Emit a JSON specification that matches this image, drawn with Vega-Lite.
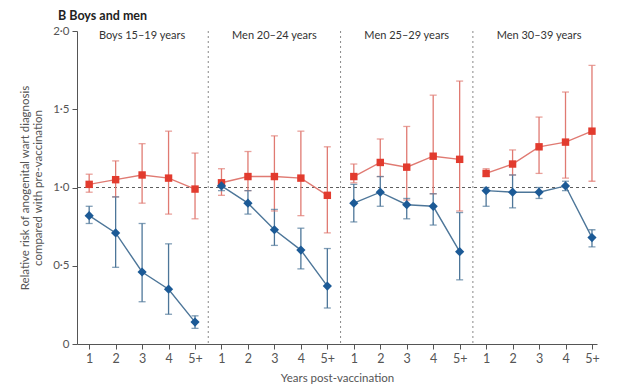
{
  "$schema": "https://vega.github.io/schema/vega-lite/v6.json",
  "width": 520,
  "height": 313,
  "autosize": {"type": "none"},
  "padding": {"left": 77, "top": 31, "right": 22, "bottom": 41},
  "background": "white",
  "title": {"text": "B  Boys and men", "anchor": "start", "frame": "group", "dx": -19, "offset": 3, "font": "Lato", "fontSize": 12.5, "fontWeight": "bold", "color": "#222"},
  "config": {
    "view": {"stroke": null},
    "axis": {"labelFont": "Lato", "titleFont": "Lato", "labelColor": "#555", "titleColor": "#555", "domainColor": "#555", "tickColor": "#555", "labelFontSize": 11.5, "titleFontSize": 11.5, "titleFontWeight": "normal", "grid": false, "tickSize": 5},
    "axisX": {"labelOverlap": false, "labelBound": false, "labelFlush": false}
  },
  "datasets": {
    "rr": [
      {"p": "Boys 15–19 years", "pos": 1, "s": "red", "rr": 1.02, "lo": 0.97, "hi": 1.085},
      {"p": "Boys 15–19 years", "pos": 2, "s": "red", "rr": 1.05, "lo": 0.94, "hi": 1.17},
      {"p": "Boys 15–19 years", "pos": 3, "s": "red", "rr": 1.08, "lo": 0.90, "hi": 1.28},
      {"p": "Boys 15–19 years", "pos": 4, "s": "red", "rr": 1.06, "lo": 0.83, "hi": 1.36},
      {"p": "Boys 15–19 years", "pos": 5, "s": "red", "rr": 0.99, "lo": 0.80, "hi": 1.22},
      {"p": "Boys 15–19 years", "pos": 1, "s": "blue", "rr": 0.82, "lo": 0.77, "hi": 0.88},
      {"p": "Boys 15–19 years", "pos": 2, "s": "blue", "rr": 0.71, "lo": 0.49, "hi": 0.94},
      {"p": "Boys 15–19 years", "pos": 3, "s": "blue", "rr": 0.46, "lo": 0.27, "hi": 0.77},
      {"p": "Boys 15–19 years", "pos": 4, "s": "blue", "rr": 0.35, "lo": 0.19, "hi": 0.64},
      {"p": "Boys 15–19 years", "pos": 5, "s": "blue", "rr": 0.14, "lo": 0.10, "hi": 0.18},
      {"p": "Men 20–24 years", "pos": 6, "s": "red", "rr": 1.03, "lo": 0.95, "hi": 1.12},
      {"p": "Men 20–24 years", "pos": 7, "s": "red", "rr": 1.07, "lo": 0.98, "hi": 1.23},
      {"p": "Men 20–24 years", "pos": 8, "s": "red", "rr": 1.07, "lo": 0.85, "hi": 1.33},
      {"p": "Men 20–24 years", "pos": 9, "s": "red", "rr": 1.06, "lo": 0.82, "hi": 1.36},
      {"p": "Men 20–24 years", "pos": 10, "s": "red", "rr": 0.95, "lo": 0.71, "hi": 1.26},
      {"p": "Men 20–24 years", "pos": 6, "s": "blue", "rr": 1.01, "lo": 0.98, "hi": 1.04},
      {"p": "Men 20–24 years", "pos": 7, "s": "blue", "rr": 0.90, "lo": 0.83, "hi": 0.98},
      {"p": "Men 20–24 years", "pos": 8, "s": "blue", "rr": 0.73, "lo": 0.63, "hi": 0.86},
      {"p": "Men 20–24 years", "pos": 9, "s": "blue", "rr": 0.60, "lo": 0.48, "hi": 0.74},
      {"p": "Men 20–24 years", "pos": 10, "s": "blue", "rr": 0.37, "lo": 0.23, "hi": 0.61},
      {"p": "Men 25–29 years", "pos": 11, "s": "red", "rr": 1.07, "lo": 1.03, "hi": 1.15},
      {"p": "Men 25–29 years", "pos": 12, "s": "red", "rr": 1.16, "lo": 1.07, "hi": 1.31},
      {"p": "Men 25–29 years", "pos": 13, "s": "red", "rr": 1.13, "lo": 0.92, "hi": 1.39},
      {"p": "Men 25–29 years", "pos": 14, "s": "red", "rr": 1.20, "lo": 0.96, "hi": 1.59},
      {"p": "Men 25–29 years", "pos": 15, "s": "red", "rr": 1.18, "lo": 0.85, "hi": 1.68},
      {"p": "Men 25–29 years", "pos": 11, "s": "blue", "rr": 0.90, "lo": 0.78, "hi": 1.02},
      {"p": "Men 25–29 years", "pos": 12, "s": "blue", "rr": 0.97, "lo": 0.88, "hi": 1.07},
      {"p": "Men 25–29 years", "pos": 13, "s": "blue", "rr": 0.89, "lo": 0.80, "hi": 0.93},
      {"p": "Men 25–29 years", "pos": 14, "s": "blue", "rr": 0.88, "lo": 0.76, "hi": 0.96},
      {"p": "Men 25–29 years", "pos": 15, "s": "blue", "rr": 0.59, "lo": 0.41, "hi": 0.84},
      {"p": "Men 30–39 years", "pos": 16, "s": "red", "rr": 1.09, "lo": 1.07, "hi": 1.12},
      {"p": "Men 30–39 years", "pos": 17, "s": "red", "rr": 1.15, "lo": 1.08, "hi": 1.24},
      {"p": "Men 30–39 years", "pos": 18, "s": "red", "rr": 1.26, "lo": 1.09, "hi": 1.45},
      {"p": "Men 30–39 years", "pos": 19, "s": "red", "rr": 1.29, "lo": 1.06, "hi": 1.61},
      {"p": "Men 30–39 years", "pos": 20, "s": "red", "rr": 1.36, "lo": 1.04, "hi": 1.78},
      {"p": "Men 30–39 years", "pos": 16, "s": "blue", "rr": 0.98, "lo": 0.88, "hi": 1.00},
      {"p": "Men 30–39 years", "pos": 17, "s": "blue", "rr": 0.97, "lo": 0.87, "hi": 1.08},
      {"p": "Men 30–39 years", "pos": 18, "s": "blue", "rr": 0.97, "lo": 0.93, "hi": 1.00},
      {"p": "Men 30–39 years", "pos": 19, "s": "blue", "rr": 1.01, "lo": 0.98, "hi": 1.04},
      {"p": "Men 30–39 years", "pos": 20, "s": "blue", "rr": 0.68, "lo": 0.62, "hi": 0.73}
    ],
    "panels": [
      {"pos": 3, "t": "Boys 15–19 years"},
      {"pos": 8, "t": "Men 20–24 years"},
      {"pos": 13, "t": "Men 25–29 years"},
      {"pos": 18, "t": "Men 30–39 years"}
    ],
    "seps": [{"x": 5.5}, {"x": 10.5}, {"x": 15.5}]
  },
  "layer": [
    {
      "data": {"name": "seps"},
      "mark": {"type": "rule", "color": "#888", "strokeDash": [2, 3], "strokeWidth": 1},
      "encoding": {
        "x": {
          "field": "x", "type": "quantitative",
          "scale": {"domain": [0.54, 20.19], "nice": false, "zero": false},
          "axis": {"values": [1,2,3,4,5,6,7,8,9,10,11,12,13,14,15,16,17,18,19,20], "tickCount": 40, "labelExpr": "datum.value % 5 == 0 ? '5+' : toString(datum.value % 5)", "labelOverlap": false, "title": "Years post-vaccination", "titlePadding": 8, "labelPadding": 3, "labelFontSize": 12.5}
        }
      }
    },
    {
      "data": {"values": [{"y": 1}]},
      "mark": {"type": "rule", "color": "#333", "strokeDash": [3, 3], "strokeWidth": 0.8},
      "encoding": {
        "y": {
          "field": "y", "type": "quantitative",
          "scale": {"domain": [0, 2], "nice": false},
          "axis": {"values": [0, 0.5, 1, 1.5, 2], "tickCount": 10, "labelExpr": "datum.value == 0 ? '0' : replace(format(datum.value, '.1f'), '.', '·')", "title": ["Relative risk of anogenital wart diagnosis", "compared with pre-vaccination"], "titlePadding": 9, "labelPadding": 3}
        }
      }
    },
    {
      "data": {"name": "rr"},
      "mark": {"type": "rule", "strokeWidth": 1.3},
      "encoding": {
        "x": {"field": "pos", "type": "quantitative"},
        "y": {"field": "lo", "type": "quantitative"},
        "y2": {"field": "hi"},
        "color": {"field": "s", "type": "nominal", "scale": {"domain": ["red", "blue"], "range": ["#e07a72", "#4d7699"]}, "legend": null}
      }
    },
    {
      "data": {"name": "rr"},
      "mark": {"type": "tick", "orient": "horizontal", "size": 7, "thickness": 1.3},
      "encoding": {
        "x": {"field": "pos", "type": "quantitative"},
        "y": {"field": "lo", "type": "quantitative"},
        "color": {"field": "s", "type": "nominal", "legend": null}
      }
    },
    {
      "data": {"name": "rr"},
      "mark": {"type": "tick", "orient": "horizontal", "size": 7, "thickness": 1.3},
      "encoding": {
        "x": {"field": "pos", "type": "quantitative"},
        "y": {"field": "hi", "type": "quantitative"},
        "color": {"field": "s", "type": "nominal", "legend": null}
      }
    },
    {
      "data": {"name": "rr"},
      "mark": {"type": "line", "strokeWidth": 1.4},
      "encoding": {
        "x": {"field": "pos", "type": "quantitative"},
        "y": {"field": "rr", "type": "quantitative"},
        "color": {"field": "s", "type": "nominal", "legend": null},
        "detail": {"field": "p", "type": "nominal"}
      }
    },
    {
      "data": {"name": "rr"},
      "mark": {"type": "point", "filled": true, "opacity": 1},
      "encoding": {
        "x": {"field": "pos", "type": "quantitative"},
        "y": {"field": "rr", "type": "quantitative"},
        "shape": {"field": "s", "type": "nominal", "scale": {"domain": ["red", "blue"], "range": ["square", "diamond"]}, "legend": null},
        "size": {"field": "s", "type": "nominal", "scale": {"domain": ["red", "blue"], "range": [55, 85]}, "legend": null},
        "fill": {"field": "s", "type": "nominal", "scale": {"domain": ["red", "blue"], "range": ["#e23b2e", "#1c5a96"]}, "legend": null},
        "color": {"field": "s", "type": "nominal", "legend": null}
      }
    },
    {
      "data": {"name": "panels"},
      "mark": {"type": "text", "font": "Lato", "fontSize": 11, "color": "#333", "baseline": "middle"},
      "encoding": {
        "x": {"field": "pos", "type": "quantitative"},
        "y": {"datum": 1.965, "type": "quantitative"},
        "text": {"field": "t"}
      }
    }
  ]
}
